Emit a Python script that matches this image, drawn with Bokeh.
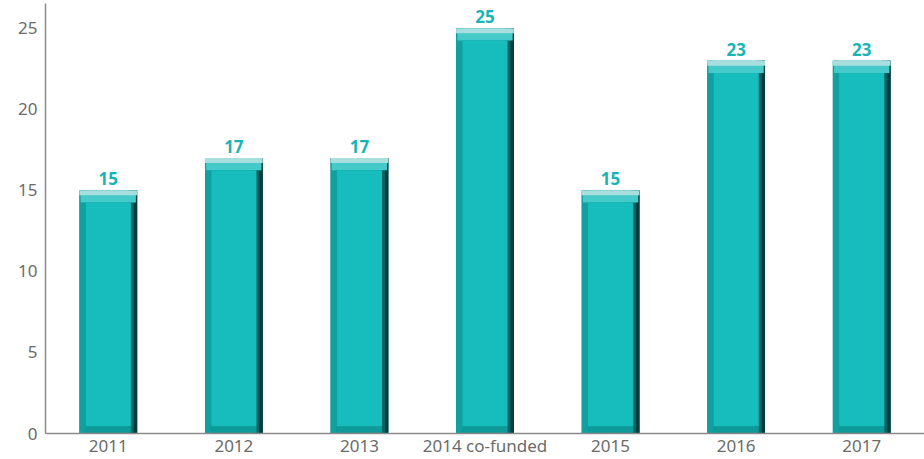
from bokeh.plotting import figure
from bokeh.models import ColumnDataSource, FactorRange, Range1d
from bokeh.transform import dodge
from bokeh.core.properties import value
from bokeh.embed import file_html
from bokeh.resources import INLINE

categories = ["2011", "2012", "2013", "2014 co-funded", "2015", "2016", "2017"]
values = [15, 17, 17, 25, 15, 23, 23]
y_ticks = [0, 5, 10, 15, 20, 25]

src = ColumnDataSource(dict(
    cat=categories,
    val=values,
    lbl=[str(v) for v in values],
    top_in=[v - 0.75 for v in values],
    cap_lo=[v - 0.3 for v in values],
))

p = figure(x_range=FactorRange(*categories), y_range=Range1d(0, 26.54),
           width=924, height=459, output_backend="svg", toolbar_location=None,
           min_border_left=45, min_border_right=0, min_border_top=3, min_border_bottom=24)
p.outline_line_color = None
p.grid.visible = False

W = 0.46
# base (dark edge)
p.vbar(x="cat", top="val", bottom=0, width=W, source=src, fill_color="#0d8a8a", line_color=None)
# left lighter edge
p.vbar(x=dodge("cat", -0.205, range=p.x_range), top="val", bottom=0, width=0.05, source=src,
       fill_color="#119f9f", line_color=None)
# right dark edge gradient
p.vbar(x=dodge("cat", 0.195, range=p.x_range), top="val", bottom=0, width=0.07, source=src,
       fill_color="#0b6464", line_color=None)
p.vbar(x=dodge("cat", 0.217, range=p.x_range), top="val", bottom=0, width=0.026, source=src,
       fill_color="#083c3c", line_color=None)
# bottom bevel
p.vbar(x="cat", top=0.45, bottom=0.05, width=0.36, source=src, fill_color="#0f9a9a", line_color=None)
# top bevel
p.vbar(x="cat", top="val", bottom="top_in", width=W - 0.02, source=src, fill_color="#45c9c9", line_color=None)
p.vbar(x="cat", top="val", bottom="cap_lo", width=W, source=src, fill_color="#a9dede", line_color=None)
# front face
p.vbar(x="cat", top="top_in", bottom=0.45, width=0.36, source=src, fill_color="#17bdbd", line_color=None)

p.text(x="cat", y="val", text="lbl", source=src, y_offset=-5,
       text_align="center", text_baseline="bottom", text_color="#19b5b5",
       text_font=value("Noto Sans"), text_font_size="17px", text_font_style="bold")

p.yaxis.ticker = y_ticks
for ax in (p.xaxis, p.yaxis):
    ax.axis_line_color = "#8a8a8a"
    ax.axis_line_width = 1.5
    ax.major_tick_line_color = None
    ax.minor_tick_line_color = None
    ax.major_tick_out = 0
    ax.major_tick_in = 0
    ax.minor_tick_out = 0
    ax.minor_tick_in = 0
    ax.major_label_text_color = "#6b6b6b"
    ax.major_label_text_font = "Noto Sans"
    ax.major_label_text_font_size = "17px"
p.yaxis.major_label_standoff = 8
p.xaxis.major_label_standoff = 0

open("out.html", "w").write(file_html(p, INLINE))
